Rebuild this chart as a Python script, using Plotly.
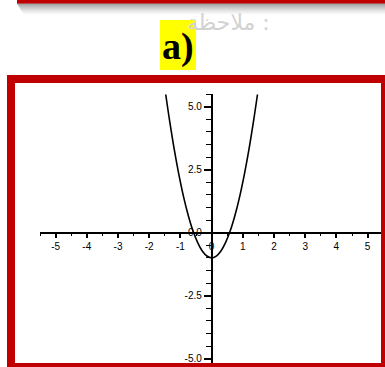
import plotly.graph_objects as go

# Sampled points of the parabola (x, y)
curve_x = [-1.47, -1.35, -1.2, -1.05, -0.9, -0.75, -0.6, -0.45, -0.3, -0.15, 0.0,
           0.15, 0.3, 0.45, 0.6, 0.75, 0.9, 1.05, 1.2, 1.35, 1.47]
curve_y = [5.48, 4.47, 3.32, 2.31, 1.43, 0.69, 0.08, -0.39, -0.73, -0.93, -1.0,
           -0.93, -0.73, -0.39, 0.08, 0.69, 1.43, 2.31, 3.32, 4.47, 5.48]

x_tick_vals = [-5, -4, -3, -2, -1, 0, 1, 2, 3, 4, 5]
x_tick_text = ["-5", "-4", "-3", "-2", "-1", "0", "1", "2", "3", "4", "5"]
y_tick_vals = [5.0, 2.5, 0.0, -2.5, -5.0]
y_tick_text = ["5.0", "2.5", "0.0", "-2.5", "-5.0"]

panel_label = "a)"
note_text = "ملاحظة :"

W, H = 385, 367
ML, MR, MT, MB = 40, 0, 94, 0
PW, PH = W - ML - MR, H - MT - MB

x_range = [-5.5, -5.5 + PW / 31.2]
y_range = [5.5 - PH / 25.2, 5.5]


def px(x):
    return (x - ML) / PW


def py(y):
    return (H - MB - y) / PH


fig = go.Figure()
fig.add_trace(go.Scatter(
    x=curve_x, y=curve_y, mode="lines", line=dict(color="black", width=1.6, shape="spline"),
    showlegend=False, hoverinfo="skip"))

tick_font = dict(family="Liberation Sans, Arial, sans-serif", size=10, color="black")

fig.update_layout(
    width=W, height=H, margin=dict(l=ML, r=MR, t=MT, b=MB),
    paper_bgcolor="white", plot_bgcolor="white",
    xaxis=dict(
        range=x_range, anchor="free",
        position=(0 - y_range[0]) / (y_range[1] - y_range[0]),
        showline=True, linecolor="black", linewidth=1.5,
        showgrid=False, zeroline=False,
        tickmode="array", tickvals=x_tick_vals, ticktext=x_tick_text,
        ticks="outside", ticklen=5, tickwidth=1.5, tickcolor="black",
        minor=dict(tickmode="array", tickvals=[v + 0.5 for v in [-6] + x_tick_vals],
                   ticks="outside", ticklen=3, tickwidth=1.3, tickcolor="black"),
        tickfont=tick_font, fixedrange=True,
    ),
    yaxis=dict(
        range=y_range, anchor="free",
        position=(0 - x_range[0]) / (x_range[1] - x_range[0]),
        showline=True, linecolor="black", linewidth=1.5,
        showgrid=False, zeroline=False,
        tickmode="array", tickvals=y_tick_vals, ticktext=y_tick_text,
        ticks="outside", ticklen=7, tickwidth=1.5, tickcolor="black",
        minor=dict(dtick=0.5, tick0=0, ticks="outside", ticklen=5,
                   tickwidth=1.3, tickcolor="black"),
        tickfont=tick_font, fixedrange=True,
    ),
)

shapes = []
# header bar with a soft shadow under it
for i in range(12):
    op = 0.6 * (1 - i / 12) ** 1.4
    shapes.append(dict(type="rect", xref="paper", yref="paper",
                       x0=px(17 + i * 0.6), x1=px(W), y0=py(4 + i), y1=py(3 + i),
                       fillcolor=f"rgba(90,90,90,{op:.3f})", line=dict(width=0), layer="above"))
shapes.append(dict(type="rect", xref="paper", yref="paper",
                   x0=px(17), x1=px(W), y0=py(3.5), y1=py(-1),
                   fillcolor="#C00000", line=dict(width=0), layer="above"))
# yellow highlight behind the panel label
shapes.append(dict(type="rect", xref="paper", yref="paper",
                   x0=px(160), x1=px(196), y0=py(70), y1=py(20),
                   fillcolor="#FFFF00", line=dict(width=0), layer="above"))
# red frame around the chart
shapes.append(dict(type="rect", xref="paper", yref="paper",
                   x0=px(11), x1=px(385), y0=py(367), y1=py(79),
                   fillcolor="rgba(0,0,0,0)", line=dict(color="#C00000", width=8),
                   layer="above"))
fig.update_layout(shapes=shapes)

fig.add_annotation(x=px(228), y=py(22), xref="paper", yref="paper",
                   text=note_text, showarrow=False, xanchor="center", yanchor="middle",
                   font=dict(family="DejaVu Sans, sans-serif", size=22, color="#d2d2d2"))
fig.add_annotation(x=px(178), y=py(47), xref="paper", yref="paper",
                   text=f"<b>{panel_label}</b>", showarrow=False,
                   xanchor="center", yanchor="middle",
                   font=dict(family="Liberation Serif, Times New Roman, serif", size=38, color="black"))

fig.write_html("out.html")
